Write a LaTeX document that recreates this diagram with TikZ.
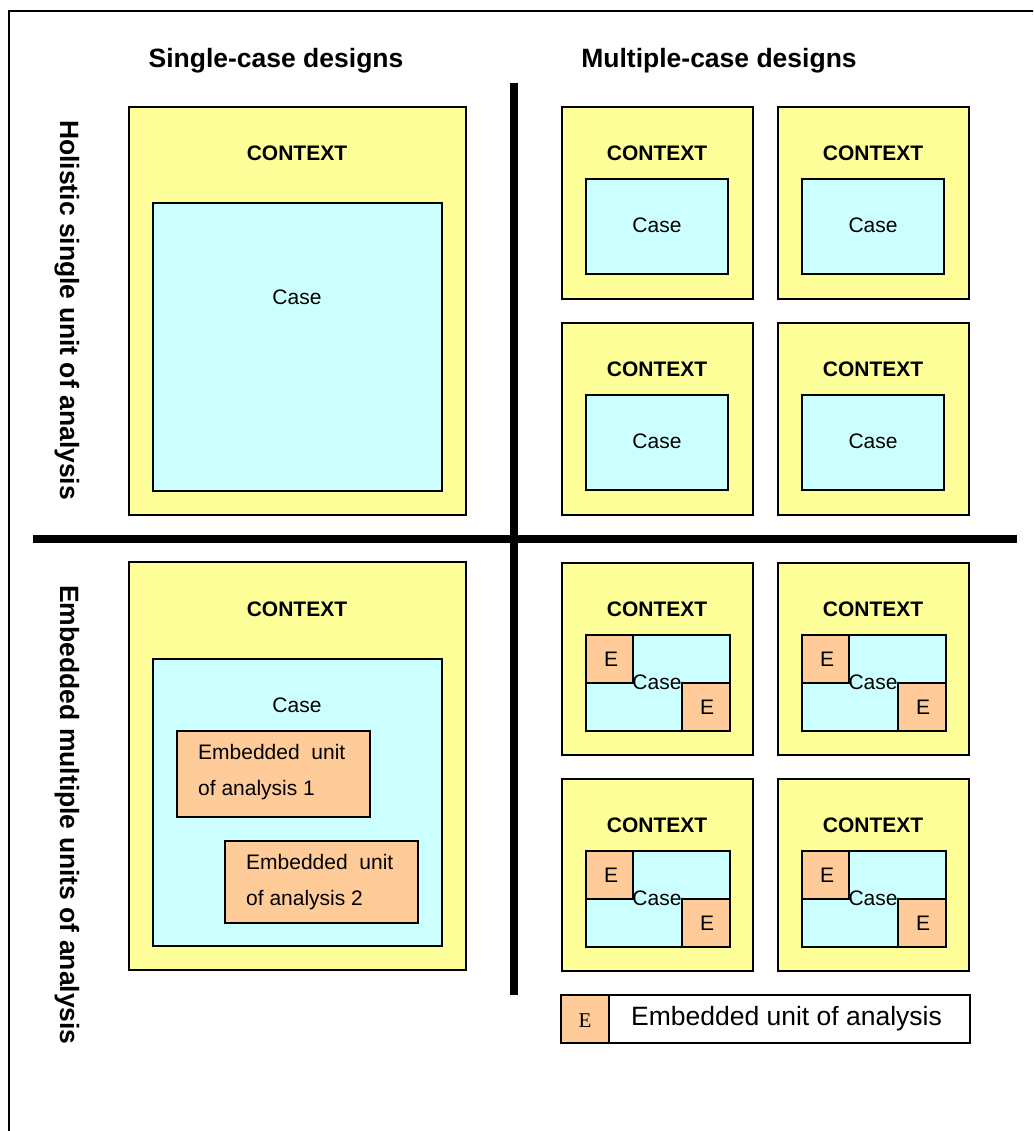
\documentclass[tikz,border=0pt]{standalone}
\usepackage{fontspec}
\setmainfont{Liberation Sans}
\newfontfamily\serifE{Liberation Serif}
\definecolor{ctxyellow}{HTML}{FFFF99}
\definecolor{casecyan}{HTML}{CCFFFF}
\definecolor{embor}{HTML}{FFCC99}
\newcommand{\mkbox}[6]{\node[#2, minimum width={(#5)*1pt-(#3)*1pt}, minimum height={(#6)*1pt-(#4)*1pt}] (#1) at (#3,#4) {};}
\begin{document}
\begin{tikzpicture}[x=1pt,y=-1pt,
  boxbase/.style={draw=black, line width=1.6pt, inner sep=0pt, outer sep=0pt, anchor=north west},
  ctx/.style={boxbase, fill=ctxyellow},
  casebox/.style={boxbase, fill=casecyan},
  emb/.style={boxbase, fill=embor},
  plain/.style={boxbase, fill=white},
  txt/.style={inner sep=0pt, font=\fontsize{21}{25}\selectfont},
  ctxtxt/.style={inner sep=0pt, font=\fontsize{21}{25}\selectfont\bfseries},
  head/.style={inner sep=0pt, font=\fontsize{26.5}{30}\selectfont\bfseries},
  bar/.style={line width=8pt}
]
\useasboundingbox (0,0) rectangle (1033,1131);
\begin{scope}
\clip (0,0) rectangle (1033,1131);
\draw[line width=1.8pt] (1100,10.8) -- (9.2,10.8) -- (9.2,1200);
\end{scope}

% headers
\node[head] (h1) at (276,61) {Single-case designs};
\node[head] (h2) at (719,61) {Multiple-case designs};
\node[head, rotate=-90] (r1) at (67,310) {Holistic single unit of analysis};
\node[head, rotate=-90] (r2) at (67,815) {Embedded multiple units of analysis};

% bars
\coordinate (vt) at (513.5,83);
\coordinate (vb) at (513.5,995);
\coordinate (hl) at (33,539);
\coordinate (hr) at (1017,539);
\draw[bar] (vt) -- (vb);
\draw[bar] (hl) -- (hr);

% single holistic
\mkbox{sh}{ctx}{129}{107}{466}{515}
\mkbox{shc}{casebox}{153}{203}{442}{491}
\node[ctxtxt] (sht) at (297,153) {CONTEXT};
\node[txt] (shct) at (297,297) {Case};

% multiple holistic
\foreach \cx/\cy/\n in {562/107/a, 778/107/b, 562/323/c, 778/323/d}{
  \mkbox{mh\n}{ctx}{\cx}{\cy}{\cx+191}{\cy+192}
  \mkbox{mhc\n}{casebox}{\cx+24}{\cy+72}{\cx+166}{\cy+167}
  \node[ctxtxt] (mht\n) at (\cx+95,\cy+46) {CONTEXT};
  \node[txt] (mhct\n) at (\cx+95,\cy+118) {Case};
}

% single embedded
\mkbox{se}{ctx}{129}{562}{466}{970}
\mkbox{sec}{casebox}{153}{659}{442}{946}
\node[ctxtxt] (set) at (297,609) {CONTEXT};
\node[txt] (sect) at (297,705) {Case};
\mkbox{se1}{emb}{177}{731}{370}{817}
\mkbox{se2}{emb}{225}{841}{418}{923}
\node[txt, anchor=west, align=left, font=\fontsize{21}{36}\selectfont] (se1t) at (198,772) {Embedded~~unit\\of analysis 1};
\node[txt, anchor=west, align=left, font=\fontsize{21}{36}\selectfont] (se2t) at (246,882) {Embedded~~unit\\of analysis 2};

% multiple embedded
\foreach \cx/\cy/\n in {562/563/a, 778/563/b, 562/779/c, 778/779/d}{
  \mkbox{me\n}{ctx}{\cx}{\cy}{\cx+191}{\cy+192}
  \mkbox{mec\n}{casebox}{\cx+24}{\cy+72}{\cx+168}{\cy+168}
  \mkbox{mee\n}{emb}{\cx+24}{\cy+72}{\cx+71}{\cy+120}
  \mkbox{mef\n}{emb}{\cx+120}{\cy+120}{\cx+168}{\cy+168}
  \node[txt] (meet\n) at (\cx+49,\cy+96) {E};
  \node[txt] (meft\n) at (\cx+145,\cy+144) {E};
  \node[ctxtxt] (met\n) at (\cx+95,\cy+46) {CONTEXT};
  \node[txt] (mect\n) at (\cx+95,\cy+119) {Case};
}

% legend
\mkbox{lgE}{emb}{561}{995}{609}{1043}
\mkbox{lgT}{plain}{609}{995}{970}{1043}
\node[inner sep=0pt, font=\fontsize{21}{24}\selectfont\serifE] (lgEt) at ([yshift=-2pt]lgE.center) {E};
\node[inner sep=0pt, font=\fontsize{26.5}{30}\selectfont] (lgTt) at ([xshift=-3pt]lgT.center) {Embedded unit of analysis};
\end{tikzpicture}
\end{document}
